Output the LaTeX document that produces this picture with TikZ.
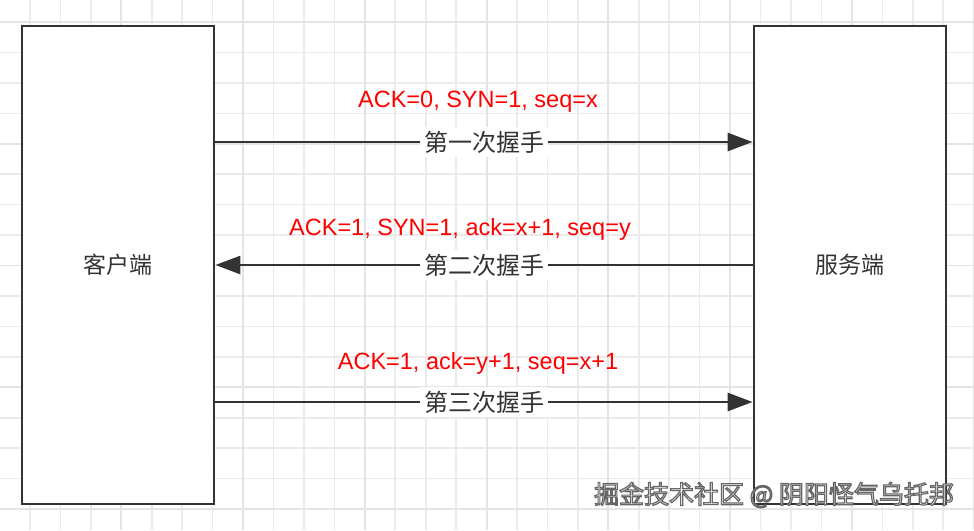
\documentclass[tikz,border=0pt]{standalone}
\usepackage{fontspec}
\setmainfont{Liberation Sans}
\newfontfamily\cjk{Noto Sans CJK SC}
\usetikzlibrary{arrows.meta}
\definecolor{linegray}{HTML}{333333}
\definecolor{msgred}{HTML}{FF0000}
\definecolor{gridminor}{HTML}{EBEBEB}
\definecolor{gridmajor}{HTML}{E4E4E4}
\tikzset{
	party/.style={draw=linegray, line width=2.8pt, fill=white, minimum width=192pt, minimum height=478pt, inner sep=0pt, text=linegray, font=\cjk\fontsize{23}{28}\selectfont},
	msg/.style={draw=linegray, line width=2.8pt, -{Triangle[length=25pt,width=18pt]}},
	hand/.style={fill=white, inner sep=4pt, text=linegray, font=\cjk\fontsize{24}{29}\selectfont},
	info/.style={anchor=base, text=msgred, font=\fontsize{23.5}{28}\selectfont},
	wm/.style={inner sep=0pt, text=white, font=\cjk\fontsize{25}{30}\selectfont}
}
\begin{document}
\begin{tikzpicture}[x=1pt, y=-1pt]
		\useasboundingbox[fill=white] (0,0) rectangle (974,530);
		% grid
		\foreach \k in {0,...,31}
			\draw[gridminor, line width=1.6pt] (30+\k*30.44, 0) -- (30+\k*30.44, 530);
		\foreach \k in {0,...,16}
			\draw[gridminor, line width=1.6pt] (0, 22+\k*30.44) -- (974, 22+\k*30.44);
		\foreach \k in {3,7,...,31}
			\draw[gridmajor, line width=1.8pt] (30+\k*30.44, 0) -- (30+\k*30.44, 530);
		\foreach \k in {0,4,...,16}
			\draw[gridmajor, line width=1.8pt] (0, 22+\k*30.44) -- (974, 22+\k*30.44);
		% client and server
		\node[party] (client) at (118,265) {客户端};
		\node[party] (server) at (850,265) {服务端};
		\coordinate (h1) at (0,142);
		\coordinate (h2) at (0,265);
		\coordinate (h3) at (0,402);
		% handshakes
		\draw[msg] (client.east |- h1) -- (server.west |- h1) node[midway, hand] (shake1) {第一次握手};
		\draw[msg] (server.west |- h2) -- (client.east |- h2) node[midway, hand] (shake2) {第二次握手};
		\draw[msg] (client.east |- h3) -- (server.west |- h3) node[midway, hand] (shake3) {第三次握手};
		\node[info] (info1) at (478,107) {ACK=0, SYN=1, seq=x};
		\node[info] (info2) at (460,235) {ACK=1, SYN=1, ack=x+1, seq=y};
		\node[info] (info3) at (478,369) {ACK=1, ack=y+1, seq=x+1};
		% watermark, outlined text
		\node[wm] (wm) at (774,495) {\special{pdf:literal direct 2 Tr 1.2 w 0.4 G}掘金技术社区 @ 阴阳怪气乌托邦\special{pdf:literal direct 0 Tr}};
	\end{tikzpicture}
\end{document}
